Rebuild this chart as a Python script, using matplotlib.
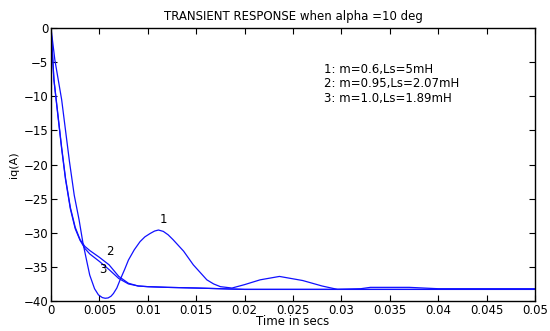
import matplotlib
matplotlib.use("Agg")
import matplotlib.pyplot as plt

# curve 1: m=0.6, Ls=5mH
t1 = [0, 0.0004, 0.0011, 0.0015, 0.0019, 0.0024, 0.0029, 0.0033, 0.0037, 0.004, 0.0045,
      0.0049, 0.0053, 0.0056, 0.0059, 0.0062, 0.00645, 0.0068, 0.00714, 0.0076, 0.008,
      0.0086, 0.0092, 0.0097, 0.01025, 0.0107, 0.0111, 0.0116, 0.0121,
      0.0126, 0.0137, 0.0147, 0.0161, 0.0168, 0.0175, 0.0187, 0.02, 0.0216, 0.0236,
      0.026, 0.028, 0.0296, 0.032, 0.033, 0.037, 0.0385, 0.04, 0.05]
iq1 = [0, -4.7, -10.5, -15.0, -19.5, -24.5, -28.1, -31.5, -34.2, -36.2, -38.2,
       -39.1, -39.5, -39.6, -39.55, -39.3, -38.9, -38.1, -36.9, -35.4, -34.0,
       -32.5, -31.3, -30.6, -30.1, -29.75, -29.6, -29.8, -30.3,
       -31.0, -32.7, -34.7, -36.9, -37.5, -37.9, -38.1, -37.6, -36.9, -36.4,
       -37.0, -37.8, -38.3, -38.2, -38.0, -38.0, -38.1, -38.2, -38.2]

# curve 2: m=0.95, Ls=2.07mH
t2 = [0, 0.0003, 0.0007, 0.0011, 0.0015, 0.002, 0.0025, 0.003, 0.0035, 0.004,
      0.005, 0.006, 0.007, 0.008, 0.009, 0.010, 0.012, 0.015, 0.02, 0.05]
iq2 = [0, -7.5, -12.5, -17.5, -22.0, -26.3, -29.2, -31.0, -32.0, -32.6,
       -33.6, -34.7, -36.4, -37.4, -37.8, -37.9, -38.0, -38.1, -38.3, -38.3]

# curve 3: m=1.0, Ls=1.89mH
t3 = [0, 0.0003, 0.0007, 0.0011, 0.0015, 0.002, 0.0025, 0.003, 0.0035, 0.004,
      0.005, 0.006, 0.007, 0.008, 0.009, 0.010, 0.012, 0.015, 0.02, 0.05]
iq3 = [0, -7.6, -12.7, -17.7, -22.2, -26.5, -29.4, -31.1, -32.3, -33.1,
       -34.2, -35.4, -36.7, -37.5, -37.8, -37.9, -38.0, -38.1, -38.3, -38.3]

xticks = [0, 0.005, 0.01, 0.015, 0.02, 0.025, 0.03, 0.035, 0.04, 0.045, 0.05]
xticklabels = ['0', '0.005', '0.01', '0.015', '0.02', '0.025', '0.03', '0.035', '0.04', '0.045', '0.05']
yticks = [0, -5, -10, -15, -20, -25, -30, -35, -40]

legend_lines = ['1: m=0.6,Ls=5mH', '2: m=0.95,Ls=2.07mH', '3: m=1.0,Ls=1.89mH']

plt.rcParams['font.family'] = 'DejaVu Sans'
fig = plt.figure(figsize=(5.5, 3.31), dpi=100)
ax = fig.add_axes([51/550, 1 - 301/331, (535 - 51)/550, (301 - 28)/331])

ax.plot(t1, iq1, color='#1010ff', lw=0.9)
ax.plot(t2, iq2, color='#1010ff', lw=0.9)
ax.plot(t3, iq3, color='#1010ff', lw=0.9)

ax.set_xlim(0, 0.05)
ax.set_ylim(-40, 0)
ax.set_xticks(xticks)
ax.set_xticklabels(xticklabels)
ax.set_yticks(yticks)
ax.tick_params(direction='in', top=True, right=True, labelsize=8.5, length=4, pad=2)
for s in ax.spines.values():
    s.set_linewidth(1.0)

ax.set_title('TRANSIENT RESPONSE when alpha =10 deg', fontsize=8.5, pad=6)
ax.set_xlabel('Time in secs', fontsize=8.5, labelpad=-1)
ax.set_ylabel('iq(A)', fontsize=8, labelpad=3)

# curve labels
ax.text(0.0116, -28.0, '1', fontsize=8.5, ha='center', va='center')
ax.text(0.0061, -32.75, '2', fontsize=8.5, ha='center', va='center')
ax.text(0.0054, -35.4, '3', fontsize=8.5, ha='center', va='center')

ax.text(0.0282, -6.15, legend_lines[0], fontsize=8.5, va='center')
ax.text(0.0282, -8.1, legend_lines[1], fontsize=8.5, va='center')
ax.text(0.0282, -10.4, legend_lines[2], fontsize=8.5, va='center')

fig.savefig('out.png', dpi=100)
